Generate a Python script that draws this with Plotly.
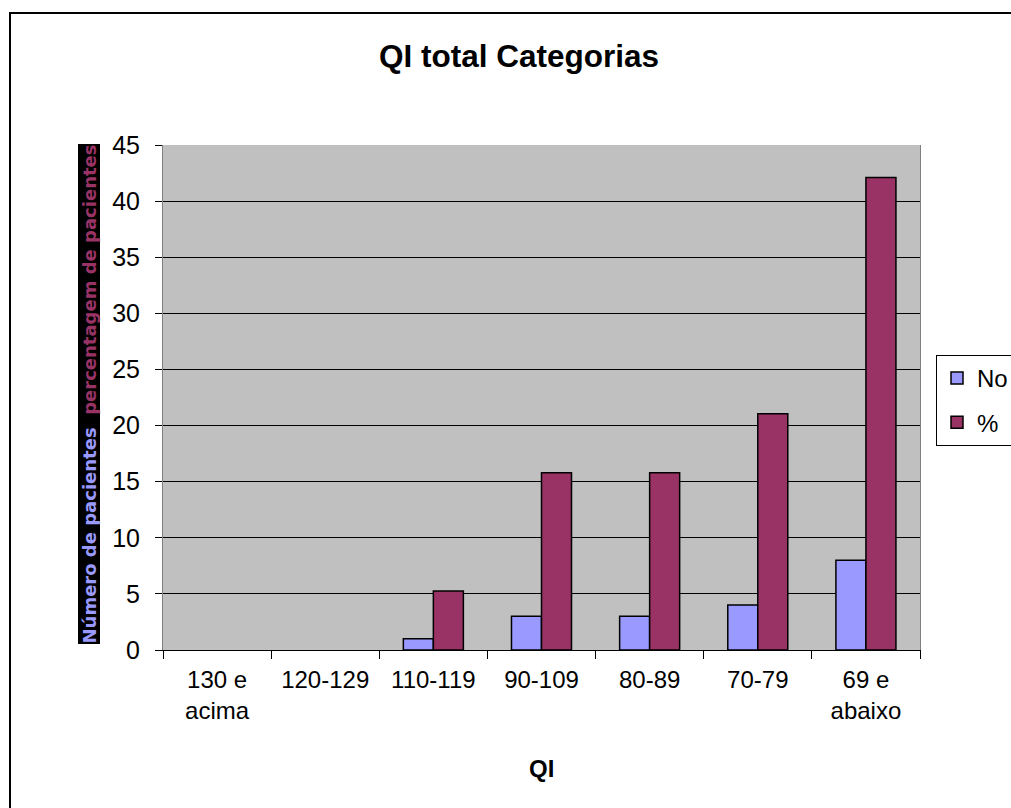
import plotly.graph_objects as go

# Faixas de QI e contagens por faixa
categorias = ["130 e<br>acima", "120-129", "110-119", "90-109", "80-89", "70-79", "69 e<br>abaixo"]
numero = [0, 0, 1, 3, 3, 4, 8]
percentagem = [0, 0, 5.26, 15.79, 15.79, 21.05, 42.11]
y_ticks = [0, 5, 10, 15, 20, 25, 30, 35, 40, 45]

AZUL = "#9999FF"
GRENA = "#993366"
FONTE = "Liberation Sans, Arial, sans-serif"

W, H = 1011, 808
L, R, T, B = 163, 920, 145, 650  # plot area in pixels


def px_x(p):
    return (p - L) / (R - L)


def px_y(p):
    return (B - p) / (B - T)


def sem_vazios(valores):
    # empty categories are left out so no outline is drawn on the baseline
    return [v if v > 0 else None for v in valores]


fig = go.Figure()
fig.add_trace(go.Bar(
    x=categorias, y=sem_vazios(numero), name="No", legendgroup="a",
    marker=dict(color=AZUL, line=dict(color="black", width=1.5)),
))
fig.add_trace(go.Bar(
    x=categorias, y=sem_vazios(percentagem), name="%", legendgroup="b",
    marker=dict(color=GRENA, line=dict(color="black", width=1.5)),
))

fig.update_layout(
    width=W, height=H,
    margin=dict(l=L, r=W - R, t=T, b=H - B, pad=0, autoexpand=False),
    paper_bgcolor="white",
    plot_bgcolor="#C0C0C0",
    barmode="group",
    bargap=0.445,
    bargroupgap=0,
    font=dict(family=FONTE, size=24, color="black"),
    showlegend=True,
    legend=dict(
        x=px_x(936), y=px_y(355), xanchor="left", yanchor="top",
        bgcolor="white", bordercolor="black", borderwidth=1,
        font=dict(family=FONTE, size=24, color="black"),
        tracegroupgap=10,
    ),
    xaxis=dict(
        type="category",
        tickson="boundaries",
        ticks="outside", ticklen=8, tickcolor="black", tickwidth=1,
        showline=True, linecolor="black", linewidth=1,
        showgrid=False,
        tickfont=dict(family=FONTE, size=24, color="black"),
        ticklabelstandoff=8,
        range=[-0.5, 6.5],
    ),
    yaxis=dict(
        range=[0, 45],
        tickvals=y_ticks,
        ticks="outside", ticklen=7, tickcolor="black", tickwidth=1,
        showline=True, linecolor="#808080", linewidth=1, mirror=True,
        showgrid=True, gridcolor="black", gridwidth=1,
        zeroline=False,
        tickfont=dict(family=FONTE, size=25, color="black"),
        ticklabelstandoff=10,
    ),
)

# Title, axis title and the two-coloured y-axis caption
fig.add_annotation(
    text="<b>QI total Categorias</b>", xref="paper", yref="paper",
    x=px_x(519), y=px_y(56), xanchor="center", yanchor="middle",
    showarrow=False, font=dict(family=FONTE, size=31.5, color="black"),
)
fig.add_annotation(
    text="<b>QI</b>", xref="paper", yref="paper",
    x=px_x(541), y=px_y(768), xanchor="center", yanchor="middle",
    showarrow=False, font=dict(family=FONTE, size=24, color="black"),
)
fig.add_annotation(
    text=(f"<b><span style='color:{AZUL}'>Número de pacientes</span>"
          f"&nbsp;&nbsp;<span style='color:{GRENA}'>percentagem de pacientes</span></b>"),
    xref="paper", yref="paper",
    x=px_x(88.5), y=px_y(394), xanchor="center", yanchor="middle",
    textangle=-90, showarrow=False,
    bgcolor="black", borderpad=0,
    font=dict(family="DejaVu Sans", size=18),
)

# Chart frame
fig.add_shape(
    type="rect", xref="paper", yref="paper",
    x0=px_x(10), y0=px_y(900), x1=px_x(1100), y1=px_y(13),
    line=dict(color="black", width=2), fillcolor="rgba(0,0,0,0)", layer="above",
)

fig.write_html("out.html")
